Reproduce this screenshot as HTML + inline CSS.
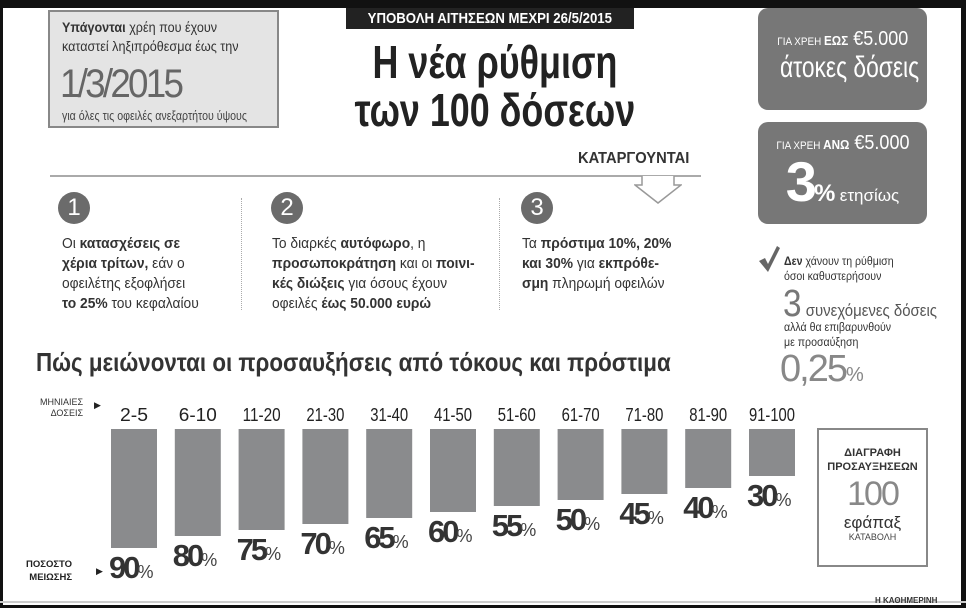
<!DOCTYPE html>
<html><head><meta charset="utf-8"><style>
body{margin:0;width:966px;height:608px;background:#111;position:relative;overflow:hidden;font-family:"Liberation Sans","DejaVu Sans",sans-serif;color:#222}
.a{position:absolute;white-space:nowrap}
#page{position:absolute;left:3px;top:8px;width:958px;height:597px;background:#fff}
.b{font-weight:bold}
.t{font-size:15px;line-height:20px;color:#333;transform:scaleX(0.92);transform-origin:0 0}
.circ{width:32px;height:32px;border-radius:50%;background:#6b6b6b;color:#fff;font-size:24px;text-align:center;line-height:32px}
.dot{border-left:1px dotted #aaa;width:0}
.rbox{background:#777;border-radius:10px;color:#fff;text-align:center}
.sx{display:inline-block;transform:scaleX(0.85);transform-origin:50% 50%}
</style></head><body>
<div id="page"></div>

<div class="a" style="left:48px;top:10px;width:227px;height:114px;background:#e4e4e4;border:2px solid #888;">
  <div class="a" style="left:12px;top:6px;font-size:14px;line-height:19px;color:#333;transform:scaleX(0.9);transform-origin:0 0"><span class="b">Υπάγονται</span> χρέη που έχουν<br>καταστεί ληξιπρόθεσμα έως την</div>
  <div class="a" style="left:10px;top:50px;font-size:40px;color:#666;letter-spacing:-3px;transform:scaleX(0.92);transform-origin:0 0">1/3/2015</div>
  <div class="a" style="left:12px;top:97px;font-size:12.5px;color:#444;transform:scaleX(0.85);transform-origin:0 0">για όλες τις οφειλές ανεξαρτήτου ύψους</div>
</div>

<div class="a b" style="left:346px;top:8px;width:288px;height:21px;background:#222;color:#fff;font-size:15px;text-align:center;line-height:21px"><span class="sx" style="transform:scaleX(0.88)">ΥΠΟΒΟΛΗ ΑΙΤΗΣΕΩΝ ΜΕΧΡΙ 26/5/2015</span></div>
<div class="a" style="left:300px;top:38px;width:390px;text-align:center;font-size:46px;line-height:48px;color:#222;font-weight:bold"><span class="sx" style="transform:scaleX(0.78)">Η νέα ρύθμιση</span><br><span class="sx" style="transform:scaleX(0.78)">των 100 δόσεων</span></div>

<div class="a rbox" style="left:758px;top:8px;width:169px;height:102px">
  <div style="margin-top:20px;font-size:20px"><span class="sx" style="transform:scaleX(0.9)"><span style="font-size:11px">ΓΙΑ ΧΡΕΗ </span><span class="b" style="font-size:13px">ΕΩΣ</span> €5.000</span></div>
  <div style="font-size:30px;margin-top:0px"><span class="sx" style="transform:scaleX(0.76)">άτοκες δόσεις</span></div>
</div>
<div class="a rbox" style="left:758px;top:122px;width:169px;height:102px">
  <div style="margin-top:10px;font-size:20px"><span class="sx" style="transform:scaleX(0.9)"><span style="font-size:11px">ΓΙΑ ΧΡΕΗ </span><span class="b" style="font-size:13px">ΑΝΩ</span> €5.000</span></div>
  <div style="margin-top:-6px"><span class="b" style="font-size:56px;letter-spacing:-3px">3</span><span class="b" style="font-size:24px">%</span> <span style="font-size:17px">ετησίως</span></div>
</div>

<svg class="a" style="left:757px;top:244px" width="24" height="30"><path d="M2 17 L8 14 L11 20 L20 2 L23 4 L11 28 Z" fill="#666"/></svg>
<div class="a" style="left:784px;top:255px;font-size:11.5px;line-height:15px;color:#333;transform:scaleX(0.92);transform-origin:0 0"><span class="b">Δεν</span> χάνουν τη ρύθμιση<br>όσοι καθυστερήσουν</div>
<div class="a" style="left:783px;top:283px;color:#555;transform:scaleX(0.88);transform-origin:0 0"><span style="font-size:38px;color:#777">3</span><span style="font-size:17px"> συνεχόμενες δόσεις</span></div>
<div class="a" style="left:784px;top:321px;font-size:11.5px;line-height:15px;color:#333;transform:scaleX(0.92);transform-origin:0 0">αλλά θα επιβαρυνθούν<br>με προσαύξηση</div>
<div class="a" style="left:780px;top:348px;color:#888"><span style="font-size:38px;letter-spacing:-2px">0,25</span><span style="font-size:20px">%</span></div>

<div class="a b" style="left:578px;top:150px;font-size:16px;color:#333;transform:scaleX(0.92);transform-origin:0 0">ΚΑΤΑΡΓΟΥΝΤΑΙ</div>
<div class="a" style="left:50px;top:175px;width:651px;height:2px;background:#aaa"></div>
<svg class="a" style="left:634px;top:175px" width="48" height="30"><path d="M8 1 V10 H1 L24 28 L47 10 H40 V1" fill="#fff" stroke="#999" stroke-width="1.5"/></svg>

<div class="a circ" style="left:58px;top:192px">1</div>
<div class="a circ" style="left:271px;top:192px">2</div>
<div class="a circ" style="left:521px;top:192px">3</div>
<div class="a dot" style="left:241px;top:198px;height:112px"></div>
<div class="a dot" style="left:499px;top:198px;height:112px"></div>
<div class="a t" style="left:62px;top:234px">Οι <span class="b">κατασχέσεις σε<br>χέρια τρίτων,</span> εάν ο<br>οφειλέτης εξοφλήσει<br><span class="b">το 25%</span> του κεφαλαίου</div>
<div class="a t" style="left:272px;top:234px">Το διαρκές <span class="b">αυτόφωρο</span>, η<br><span class="b">προσωποκράτηση</span> και οι <span class="b">ποινι-<br>κές διώξεις</span> για όσους έχουν<br>οφειλές <span class="b">έως 50.000 ευρώ</span></div>
<div class="a t" style="left:522px;top:234px">Τα <span class="b">πρόστιμα 10%, 20%<br>και 30%</span> για <span class="b">εκπρόθε-<br>σμη</span> πληρωμή οφειλών</div>

<div class="a b" style="left:36px;top:347px;font-size:26px;color:#333;transform:scaleX(0.86);transform-origin:0 0">Πώς μειώνονται οι προσαυξήσεις από τόκους και πρόστιμα</div>
<div class="a" style="left:40px;top:397px;font-size:9px;line-height:11px;text-align:right;color:#333">ΜΗΝΙΑΙΕΣ<br>ΔΟΣΕΙΣ</div>
<div class="a" style="left:94px;top:400px;font-size:9px">▶</div>
<div class="a b" style="left:26px;top:558px;font-size:9.5px;line-height:13px;text-align:right;color:#222">ΠΟΣΟΣΤΟ<br>ΜΕΙΩΣΗΣ</div>
<div class="a" style="left:96px;top:566px;font-size:9px">▶</div>

<svg class="a" id="chart" style="left:0;top:0" width="966" height="608"></svg>

<div class="a" style="left:817px;top:428px;width:107px;height:135px;border:2px solid #888;text-align:center">
  <div class="b" style="margin-top:16px;font-size:11px;line-height:14px;color:#333">ΔΙΑΓΡΑΦΗ<br>ΠΡΟΣΑΥΞΗΣΕΩΝ</div>
  <div style="font-size:34px;color:#888;letter-spacing:-2px;line-height:40px">100</div>
  <div style="font-size:17px;color:#333;line-height:18px">εφάπαξ</div>
  <div style="font-size:9px;color:#444">ΚΑΤΑΒΟΛΗ</div>
</div>
<div class="a" style="left:0;top:601px;width:966px;height:2px;background:#ccc"></div>
<div class="a b" style="left:875px;top:596px;font-size:8px;color:#333">Η ΚΑΘΗΜΕΡΙΝΗ</div>

<script>
const categories=["2-5","6-10","11-20","21-30","31-40","41-50","51-60","61-70","71-80","81-90","91-100"];
const reductions=[90,80,75,70,65,60,55,50,45,40,30];
const ns="http://www.w3.org/2000/svg";
const svg=document.getElementById('chart');
const barTop=429, barW=46;
function xPos(i){return 111+i*63.8;}
function yBottom(v){return 476+1.2*(v-30);}
categories.forEach((c,i)=>{
  const x=xPos(i), v=reductions[i], yb=yBottom(v);
  const lab=document.createElementNS(ns,'text');
  
  
  lab.setAttribute('x',x+barW/2);lab.setAttribute('y',421);
  lab.setAttribute('text-anchor','middle');lab.setAttribute('font-size','18');lab.setAttribute('fill','#222');
  lab.setAttribute('textLength', c.length>5?'46':(c.length>3?'38':'28'));
  lab.setAttribute('lengthAdjust','spacingAndGlyphs');
  lab.textContent=c;svg.appendChild(lab);
  const r=document.createElementNS(ns,'rect');
  
  
  r.setAttribute('x',x);r.setAttribute('y',barTop);r.setAttribute('width',barW);r.setAttribute('height',yb-barTop);
  r.setAttribute('fill','#8a8b8d');svg.appendChild(r);
  const t=document.createElementNS(ns,'text');
  
  
  t.setAttribute('x',x-2);t.setAttribute('y',yb+30);t.setAttribute('fill','#333');
  const n=document.createElementNS(ns,'tspan');n.setAttribute('font-size','31');n.setAttribute('font-weight','bold');n.setAttribute('letter-spacing','-3');n.textContent=v;
  const p=document.createElementNS(ns,'tspan');p.setAttribute('font-size','18');p.setAttribute('fill','#444');p.textContent='%';
  t.appendChild(n);t.appendChild(p);svg.appendChild(t);
});
</script>
</body></html>
